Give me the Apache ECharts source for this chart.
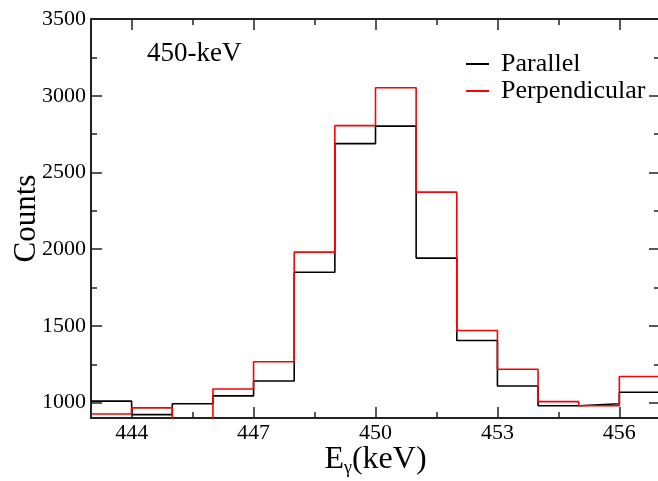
<!DOCTYPE html>
<html><head><meta charset="utf-8">
<script src="https://cdn.jsdelivr.net/npm/echarts@6/dist/echarts.min.js"></script>
<style>html,body{margin:0;padding:0;background:#fff}#c{width:658px;height:481px}</style>
</head><body><div id="c"></div>
<script>
// bin left edges (keV), each bin 1 keV wide
const binEdges = [443,444,445,446,447,448,449,450,451,452,453,454,455,456];
const parallel = [1010,922,993,1044,1141,1850,2688,2802,1942,1405,1109,980,993,1068];
const perpendicular = [926,966,870,1089,1267,1981,2805,3052,2372,1470,1218,1007,980,1170];
const xTickLabels = [444,447,450,453,456];
const xMinorTicks = [445.5,448.5,451.5,454.5];
const yTickLabels = [1000,1500,2000,2500,3000,3500];
const yMinorTicks = [1250,1750,2250,2750,3250];
const binWidth = 1;

function steps(vals){
  const pts = [];
  vals.forEach((v,i)=>{ pts.push([binEdges[i], v]); pts.push([binEdges[i]+binWidth, v]); });
  return pts;
}
const FONT = 'Liberation Serif';
const AX = '#222';
const chart = echarts.init(document.getElementById('c'), null, {renderer:'canvas'});
function xAx(pos, show, labels, ticks, len){
  return {type:'value', position:pos, min:443, max:457,
    axisLine:{show:show, onZero:false, lineStyle:{color:AX,width:2}},
    axisTick:{show:true, inside:true, length:len, customValues:ticks, lineStyle:{color:AX,width:1.5}},
    axisLabel:{show:labels, customValues:ticks, margin:4, color:'#000', fontFamily:FONT, fontSize:22,
      formatter:(v)=>String(v)},
    splitLine:{show:false}};
}
function yAx(pos, show, labels, ticks, len){
  return {type:'value', position:pos, min:900, max:3500,
    axisLine:{show:show, onZero:false, lineStyle:{color:AX,width:2}},
    axisTick:{show:true, inside:true, length:len, customValues:ticks, lineStyle:{color:AX,width:1.5}},
    axisLabel:{show:labels, customValues:ticks, margin:5, color:'#000', fontFamily:FONT, fontSize:22,
      formatter:(v)=>String(v)},
    splitLine:{show:false}};
}
const xs = [xAx('bottom',true,true,xTickLabels,11), xAx('top',true,false,xTickLabels,11),
            xAx('bottom',false,false,xMinorTicks,6), xAx('top',false,false,xMinorTicks,6)];
xs[0].name = '{e|E}{g|γ}{e|(keV)}';
xs[0].nameLocation = 'middle';
xs[0].nameGap = 26;
xs[0].nameMoveOverlap = false;
xs[0].nameTextStyle = {rich:{
  e:{fontFamily:FONT, fontSize:32, color:'#000', lineHeight:32},
  g:{fontFamily:FONT, fontSize:18, color:'#000', padding:[16,0,0,0], lineHeight:32}}};
const ys = [yAx('left',true,true,yTickLabels,11), yAx('right',true,false,yTickLabels,11),
            yAx('left',false,false,yMinorTicks,6), yAx('right',false,false,yMinorTicks,6)];
ys[0].name = 'Counts';
ys[0].nameLocation = 'middle';
ys[0].nameGap = 49;
ys[0].nameMoveOverlap = false;
ys[0].nameTextStyle = {fontFamily:FONT, fontSize:31, color:'#000'};

chart.setOption({
  animation:false,
  backgroundColor:'#fff',
  title:{text:'450-keV', left:142, top:35, textStyle:{fontFamily:FONT, fontSize:27, fontWeight:'normal', color:'#000'}},
  grid:{left:91, top:19, width:569, height:399, containLabel:false, outerBoundsMode:'none'},
  legend:{orient:'vertical', left:461, top:46, itemWidth:23, itemHeight:2, itemGap:1, icon:'rect',
    textStyle:{fontFamily:FONT, fontSize:26, color:'#000', padding:[0,0,0,7]},
    data:['Parallel','Perpendicular']},
  xAxis: xs,
  yAxis: ys,
  series:[
    {name:'Parallel', type:'line', data:steps(parallel), symbol:'none', clip:true,
     lineStyle:{color:'#000', width:1.6}, itemStyle:{color:'#000'}, xAxisIndex:0, yAxisIndex:0},
    {name:'Perpendicular', type:'line', data:steps(perpendicular), symbol:'none', clip:true,
     lineStyle:{color:'#ff0000', width:1.6}, itemStyle:{color:'#ff0000'}, xAxisIndex:0, yAxisIndex:0}
  ]
});
</script></body></html>
